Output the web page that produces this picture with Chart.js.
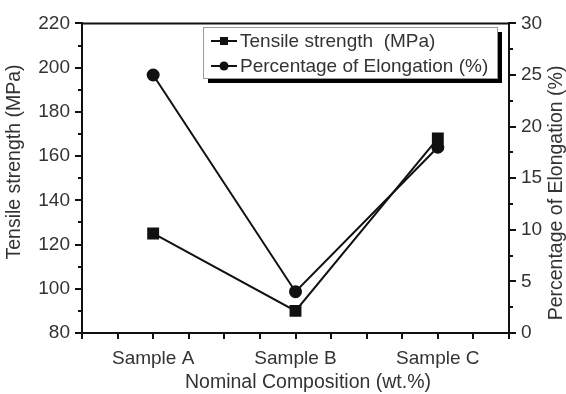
<!DOCTYPE html>
<html>
<head>
<meta charset="utf-8">
<script src="https://cdn.jsdelivr.net/npm/chart.js@4.4.1/dist/chart.umd.min.js"></script>
<style>
html,body{margin:0;padding:0;background:#fff}
#wrap{width:566px;height:394px}
</style>
</head>
<body>
<div id="wrap"><canvas id="chart"></canvas></div>
<script>
const samples = ["Sample A", "Sample B", "Sample C"];
const tensile = [125, 90, 168];
const elongation = [25, 4, 18];

const FONT = "'Liberation Sans', Arial, sans-serif";
const TXT = "#333";

// top frame line, tick marks, axis titles and the boxed legend
const framePlugin = {
    id: "frame",
    afterDraw(chart) {
        const ctx = chart.ctx;
        const a = chart.chartArea;
        const sx = chart.scales.x, sy = chart.scales.y, sy2 = chart.scales.y2;
        ctx.save();
        ctx.strokeStyle = "#111";
        ctx.lineWidth = 2;
        ctx.beginPath();
        ctx.moveTo(a.left - 1, a.top);
        ctx.lineTo(a.right + 1, a.top);
        ctx.stroke();

        ctx.beginPath();
        sy.ticks.forEach(t => {
            const p = Math.round(sy.getPixelForValue(t.value));
            const len = t.value % 20 === 0 ? 7 : 4;
            ctx.moveTo(a.left - len, p);
            ctx.lineTo(a.left, p);
        });
        sy2.ticks.forEach(t => {
            const p = Math.round(sy2.getPixelForValue(t.value));
            const len = t.value % 5 === 0 ? 7 : 4;
            ctx.moveTo(a.right, p);
            ctx.lineTo(a.right + len, p);
        });
        sx.ticks.forEach(t => {
            const p = Math.round(sx.getPixelForValue(t.value));
            ctx.moveTo(p, a.bottom);
            ctx.lineTo(p, a.bottom + 6);
        });
        ctx.stroke();

        // axis titles
        ctx.fillStyle = TXT;
        ctx.font = "19.5px " + FONT;
        ctx.textAlign = "center";
        ctx.textBaseline = "middle";
        ctx.fillText("Nominal Composition (wt.%)", 308, 383);
        ctx.save();
        ctx.translate(15, 162);
        ctx.rotate(-Math.PI / 2);
        ctx.fillText("Tensile strength (MPa)", 0, 0);
        ctx.restore();
        ctx.save();
        ctx.translate(557, 193);
        ctx.rotate(-Math.PI / 2);
        ctx.fillText("Percentage of Elongation (%)", 0, 0);
        ctx.restore();

        // legend box with shadow
        const bx = 203, by = 27, bw = 294, bh = 51;
        ctx.fillStyle = "#000";
        ctx.fillRect(bx + 5, by + 5, bw, bh);
        ctx.fillStyle = "#fff";
        ctx.fillRect(bx, by, bw, bh);
        ctx.lineWidth = 1;
        ctx.strokeStyle = "#999";
        ctx.strokeRect(bx + 0.5, by + 0.5, bw, bh);

        ctx.textAlign = "left";
        chart.data.datasets.forEach((ds, i) => {
            const y = by + 14 + i * 25;
            ctx.strokeStyle = "#111";
            ctx.lineWidth = 2;
            ctx.beginPath();
            ctx.moveTo(bx + 8, y);
            ctx.lineTo(bx + 34, y);
            ctx.stroke();
            ctx.fillStyle = "#111";
            if (ds.pointStyle === "rect") {
                ctx.fillRect(bx + 17, y - 4, 8, 8);
            } else {
                ctx.beginPath();
                ctx.arc(bx + 21, y, 4.5, 0, Math.PI * 2);
                ctx.fill();
            }
            ctx.fillStyle = TXT;
            ctx.font = "19px " + FONT;
            ctx.fillText(ds.label, bx + 37, y + 1);
        });
        ctx.restore();
    }
};

new Chart(document.getElementById("chart"), {
    type: "line",
    data: {
        datasets: [{
            label: "Tensile strength  (MPa)",
            data: tensile.map((v, i) => ({x: i + 1, y: v})),
            yAxisID: "y",
            borderColor: "#111",
            backgroundColor: "#111",
            borderWidth: 2,
            pointStyle: "rect",
            pointRadius: 7,
            pointHoverRadius: 7
        }, {
            label: "Percentage of Elongation (%)",
            data: elongation.map((v, i) => ({x: i + 1, y: v})),
            yAxisID: "y2",
            borderColor: "#111",
            backgroundColor: "#111",
            borderWidth: 2,
            pointStyle: "circle",
            pointRadius: 5.5,
            pointHoverRadius: 5.5
        }]
    },
    options: {
        responsive: true,
        maintainAspectRatio: false,
        animation: false,
        layout: {padding: {top: 21, left: 0, right: 0, bottom: 0}},
        plugins: {legend: {display: false}, tooltip: {enabled: false}},
        scales: {
            x: {
                type: "linear",
                min: 0.5,
                max: 3.5,
                afterFit: s => { s.height = 61; },
                grid: {display: false, drawTicks: false},
                border: {display: true, color: "#111", width: 2},
                ticks: {
                    stepSize: 0.25,
                    autoSkip: false,
                    maxRotation: 0,
                    padding: 14,
                    color: TXT,
                    font: {family: FONT, size: 19},
                    callback: v => Number.isInteger(v) ? samples[v - 1] : ""
                }
            },
            y: {
                position: "left",
                min: 80,
                max: 220,
                afterFit: s => { s.width = 82; },
                grid: {display: false, drawTicks: false},
                border: {display: true, color: "#111", width: 2},
                ticks: {
                    stepSize: 10,
                    autoSkip: false,
                    padding: 12,
                    color: TXT,
                    font: {family: FONT, size: 19},
                    callback: v => v % 20 === 0 ? v : ""
                }
            },
            y2: {
                position: "right",
                min: 0,
                max: 30,
                afterFit: s => { s.width = 57; },
                grid: {display: false, drawTicks: false},
                border: {display: true, color: "#111", width: 2},
                ticks: {
                    stepSize: 2.5,
                    autoSkip: false,
                    padding: 12,
                    color: TXT,
                    font: {family: FONT, size: 19},
                    callback: v => v % 5 === 0 ? v : ""
                }
            }
        }
    },
    plugins: [framePlugin]
});
</script>
</body>
</html>
